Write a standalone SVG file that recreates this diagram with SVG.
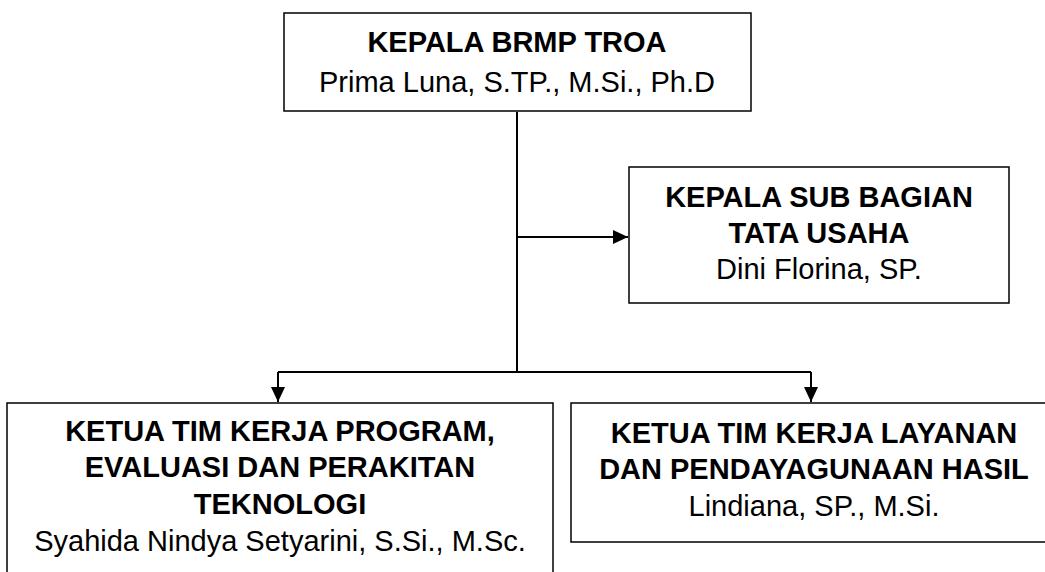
<svg xmlns="http://www.w3.org/2000/svg" width="1045" height="572" viewBox="0 0 1045 572">
<style>
.box{fill:#fff;stroke:#000;stroke-width:1.5}
.t{font-family:"Liberation Sans",Arial,sans-serif;font-size:29px;fill:#000;text-anchor:middle}
.b{font-weight:bold}
.c{fill:none;stroke:#000;stroke-width:2}
</style>
<defs>
<marker id="ah" viewBox="0 0 15 14" refX="15" refY="7" markerWidth="15" markerHeight="14" markerUnits="userSpaceOnUse" orient="auto">
<path d="M0,0 L15,7 L0,14 z" fill="#000"/>
</marker>
</defs>
<rect width="1045" height="572" fill="#fff"/>
<g id="connectors">
<path class="c" d="M517,112 V372"/>
<path class="c" d="M517,237 H628" marker-end="url(#ah)"/>
<path class="c" d="M278,372 H811"/>
<path class="c" d="M278,372 V402" marker-end="url(#ah)"/>
<path class="c" d="M811,372 V402" marker-end="url(#ah)"/>
</g>
<g id="kepala">
<rect class="box" x="284" y="13" width="467" height="98"/>
<text class="t b" x="517" y="52">KEPALA BRMP TROA</text>
<text class="t" x="517" y="92">Prima Luna, S.TP., M.Si., Ph.D</text>
</g>
<g id="tata-usaha">
<rect class="box" x="629" y="167" width="380" height="136"/>
<text class="t b" x="819" y="207">KEPALA SUB BAGIAN</text>
<text class="t b" x="819" y="243">TATA USAHA</text>
<text class="t" x="819" y="279">Dini Florina, SP.</text>
</g>
<g id="program">
<rect class="box" x="7" y="403" width="546" height="190"/>
<text class="t b" x="280" y="441">KETUA TIM KERJA PROGRAM,</text>
<text class="t b" x="280" y="477">EVALUASI DAN PERAKITAN</text>
<text class="t b" x="280" y="514">TEKNOLOGI</text>
<text class="t" x="280" y="551">Syahida Nindya Setyarini, S.Si., M.Sc.</text>
</g>
<g id="layanan">
<rect class="box" x="571" y="403" width="500" height="139"/>
<text class="t b" x="814" y="443">KETUA TIM KERJA LAYANAN</text>
<text class="t b" x="814" y="479">DAN PENDAYAGUNAAN HASIL</text>
<text class="t" x="814" y="516">Lindiana, SP., M.Si.</text>
</g>
</svg>
